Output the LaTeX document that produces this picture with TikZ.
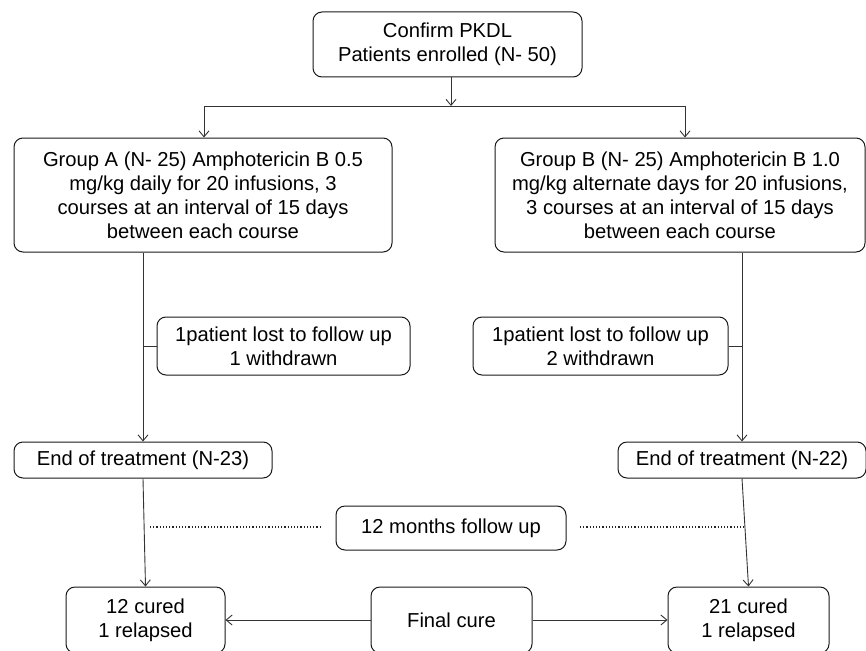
\documentclass[tikz,border=0pt]{standalone}
\usepackage{fontspec}
\setmainfont{Liberation Sans}
\usetikzlibrary{arrows.meta}
\begin{document}
\begin{tikzpicture}[x=1pt,y=-1pt,
  box/.style={draw=black!90, line width=1pt, rounded corners=9pt, align=center,
    inner sep=0pt, font=\fontsize{20.2}{24}\selectfont, text=black},
  conn/.style={draw=black!80, line width=0.9pt},
  arr/.style={conn, -{Straight Barb[length=6pt,width=10pt]}},
  dots/.style={draw=black!85, line width=1.2pt, dotted}]
\useasboundingbox (0,0) rectangle (866,650);
\fill[white] (0,0) rectangle (866,650);

\node[box, minimum width=269pt, minimum height=65pt] (top) at (447.5,44.5) {Confirm PKDL\\Patients enrolled (N- 50)};
\node[box, minimum width=378pt, minimum height=114pt] (ga) at (203,195) {Group A (N- 25) Amphotericin B 0.5\\mg/kg daily for 20 infusions, 3\\courses at an interval of 15 days\\between each course};
\node[box, minimum width=370pt, minimum height=114pt] (gb) at (680,195) {Group B (N- 25) Amphotericin B 1.0\\mg/kg alternate days for 20 infusions,\\3 courses at an interval of 15 days\\between each course};
\node[box, minimum width=253pt, minimum height=58pt] (la) at (283.5,346) {1patient lost to follow up\\1 withdrawn};
\node[box, minimum width=255pt, minimum height=58pt] (lb) at (600.5,346) {1patient lost to follow up\\2 withdrawn};
\node[box, minimum width=258pt, minimum height=36pt] (ea) at (143,460) {End of treatment (N-23)};
\node[box, minimum width=248pt, minimum height=36pt] (eb) at (742,460) {End of treatment (N-22)};
\node[box, minimum width=230pt, minimum height=44pt] (fu) at (451,528) {12 months follow up};
\node[box, minimum width=159pt, minimum height=66pt] (ca) at (145.5,620) {12 cured\\1 relapsed};
\node[box, minimum width=161pt, minimum height=66pt] (fc) at (451.5,620) {Final cure};
\node[box, minimum width=161pt, minimum height=66pt] (cb) at (748.5,620) {21 cured\\1 relapsed};

\coordinate (split) at (451,106);
\coordinate (hl) at (204,106);
\coordinate (hr) at (685,106);
\draw[arr] (top.south -| split) -- (split);
\draw[conn] (hl) -- (hr);
\draw[arr] (hl) -- (hl |- ga.north);
\draw[arr] (hr) -- (hr |- gb.north);

\draw[arr] (ga.south -| ea.north) -- (ea.north);
\draw[conn] (la.west) -- (la.west -| ea.north);
\draw[arr] (gb.south -| eb.north) -- (eb.north);
\draw[conn] (lb.east) -- (lb.east -| eb.north);

\draw[arr] (ea.south) -- (ca.north);
\draw[arr] (eb.south) -- (cb.north);

\coordinate (d1) at (150,527);
\coordinate (d2) at (322,527);
\coordinate (d3) at (580,527);
\coordinate (d4) at (745,527);
\draw[dots] (d1) -- (d2);
\draw[dots] (d3) -- (d4);

\draw[arr] (fc.west) -- (ca.east);
\draw[arr] (fc.east) -- (cb.west);
\end{tikzpicture}
\end{document}
